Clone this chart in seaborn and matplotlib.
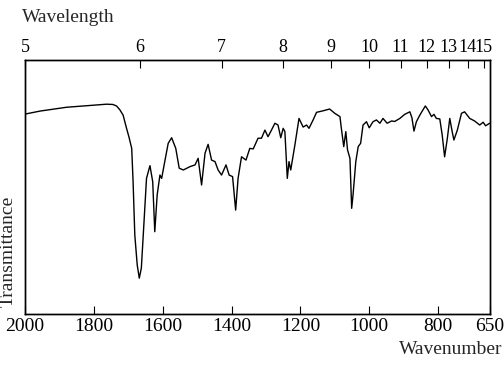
import matplotlib
matplotlib.use("Agg")
import matplotlib.pyplot as plt
import seaborn as sns
import pandas as pd

# Spectrum (wavenumber in cm-1, transmittance in %)
wavenumber = [2000, 1956, 1879, 1811, 1763, 1745, 1734, 1724, 1715, 1705, 1698, 1690,
              1686, 1681, 1674,
              1668, 1662, 1657, 1647, 1637, 1629, 1623, 1616, 1608, 1603, 1594, 1584,
              1574, 1562, 1552, 1540, 1521, 1506, 1497, 1487, 1477, 1468, 1458, 1448,
              1439, 1429, 1416, 1407, 1397, 1388, 1381, 1371, 1358, 1347, 1337, 1323,
              1313, 1303, 1294, 1284, 1274, 1265, 1257, 1250, 1245, 1238, 1233, 1228,
              1216, 1204, 1192, 1182, 1175, 1163, 1153, 1134, 1115, 1100, 1085, 1081,
              1074, 1068, 1063, 1056, 1051, 1047, 1039, 1032, 1025, 1018, 1008, 1000,
              989, 979, 969, 960, 948, 935, 926, 911, 897, 882, 876, 870, 863, 853,
              837, 829, 819, 812, 805, 795, 788, 781, 773, 766, 759, 754, 744, 732,
              723, 708, 694, 679, 669, 662, 650]
transmittance = [78.7, 79.9, 81.4, 82.1, 82.6, 82.5, 81.9, 80.3, 78.3, 73.1, 69.7, 65.2,
                 52.1, 31.1, 19.3,
                 14.1, 18.1, 29.8, 53.4, 58.4, 52.1, 32.4, 46.9, 54.7, 53.4, 60.0, 67.2,
                 69.4, 65.2, 57.4, 56.7, 58.0, 58.7, 61.3, 50.8, 63.3, 66.8, 60.6, 60.0,
                 56.7, 54.7, 58.7, 54.7, 54.1, 40.9, 53.4, 61.9, 60.6, 65.2, 65.0, 69.2,
                 69.2, 72.4, 69.8, 72.4, 75.1, 74.4, 69.4, 73.1, 71.8, 53.4, 60.0, 56.7,
                 66.5, 77.0, 73.6, 74.4, 73.1, 76.4, 79.4, 80.0, 80.7, 79.0, 77.7, 73.1,
                 65.9, 71.8, 64.6, 61.3, 41.6, 46.9, 60.0, 65.9, 67.2, 74.4, 75.7, 73.3,
                 75.7, 76.4, 75.1, 77.0, 75.1, 76.0, 75.8, 77.0, 78.6, 79.6, 77.3, 72.0,
                 75.7, 78.3, 81.9, 80.3, 77.7, 78.6, 77.0, 76.8, 70.5, 61.9, 69.2, 77.0,
                 71.8, 68.5, 72.4, 79.0, 79.6, 77.0, 76.0, 74.4, 75.5, 74.1, 75.1]

wn_ticks = [2000, 1800, 1600, 1400, 1200, 1000, 800, 650]
wl_ticks = [5, 6, 7, 8, 9, 10, 11, 12, 13, 14, 15]

sns.set_theme(style="white")
plt.rcParams["font.family"] = ["Liberation Serif", "DejaVu Serif"]

df = pd.DataFrame({"wn": wavenumber, "T": transmittance})

fig = plt.figure(figsize=(5.04, 3.69), dpi=100)
ax = fig.add_axes([25 / 504, 1 - 314 / 369, (489.7 - 25) / 504, (314 - 60) / 369])
sns.lineplot(data=df, x="wn", y="T", sort=False, estimator=None, color="black",
             linewidth=1.0, ax=ax)
ax.set_xlim(2000, 650)
ax.set_ylim(0, 100)
ax.set_yticks([])
ax.set_xlabel("")
ax.set_ylabel("")
ax.set_xticks(wn_ticks)
ax.set_xticklabels([str(t) for t in wn_ticks])
ax.tick_params(axis="x", direction="in", length=6, width=0.8, color="black",
               labelsize=14, pad=3, bottom=True, labelcolor="black")
for s in ax.spines.values():
    s.set_color("black")
    s.set_linewidth(1.0)

ax2 = ax.twiny()
ax2.set_xlim(ax.get_xlim())
ax2.set_xticks([1e4 / w for w in wl_ticks])
ax2.set_xticklabels([str(w) for w in wl_ticks])
ax2.tick_params(axis="x", direction="in", length=6, width=0.8, color="black",
                labelsize=13, pad=3, top=True, labelcolor="black")
for s in ax2.spines.values():
    s.set_color("black")
    s.set_linewidth(1.0)

fig.text(22 / 504, 1 - 17 / 369, "Wavelength", fontsize=14, ha="left", va="center")
fig.text(502 / 504, 1 - 350 / 369, "Wavenumber", fontsize=14, ha="right", va="center")
fig.text(8 / 504, 1 - 251 / 369, "Transmittance", fontsize=14, ha="center", va="center",
         rotation=90)

fig.savefig("out.png", dpi=100)
